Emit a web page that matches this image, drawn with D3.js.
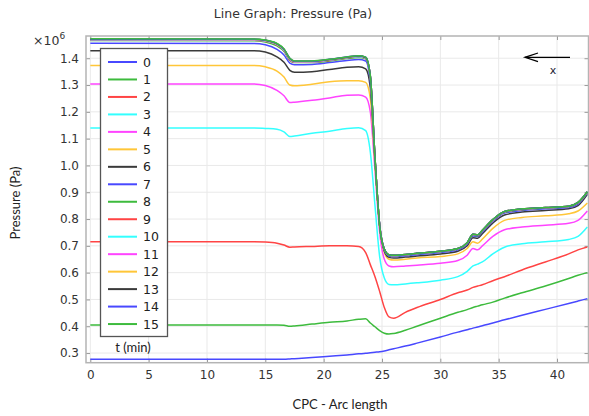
<!DOCTYPE html>
<html>
<head>
<meta charset="utf-8">
<script src="https://cdn.jsdelivr.net/npm/d3@7"></script>
<style>
  html, body { margin: 0; padding: 0; background: #fff; }
  svg { display: block; }
</style>
</head>
<body>
<svg id="chart" width="589" height="416"></svg>
<script>
// Arc length positions (shared by every time step)
const arcLength = [0, 14, 15, 16, 16.6, 17.1, 17.5, 19, 20.5, 22, 23, 23.6, 24, 24.4, 24.8, 25.2, 25.6, 26, 27, 28, 30, 31.5, 32.3, 32.8, 33.2, 33.6, 34.5, 35.5, 37, 39, 41, 41.8, 42.6];

// Time steps (min) shown in the legend
const times = [0, 1, 2, 3, 4, 5, 6, 7, 8, 9, 10, 11, 12, 13, 14, 15];

// Pressure in units of 1e6 Pa, one list per time step
const p0  = [0.277,0.277,0.277,0.277,0.277,0.278,0.279,0.283,0.288,0.293,0.297,0.299,0.301,0.303,0.305,0.308,0.312,0.316,0.326,0.337,0.360,0.378,0.387,0.393,0.397,0.402,0.412,0.424,0.441,0.463,0.485,0.494,0.503];
const p1  = [0.405,0.405,0.405,0.405,0.404,0.400,0.401,0.408,0.415,0.420,0.426,0.428,0.412,0.398,0.384,0.374,0.371,0.373,0.385,0.400,0.430,0.452,0.462,0.470,0.475,0.480,0.490,0.505,0.525,0.550,0.578,0.590,0.600];
const p2  = [0.715,0.715,0.714,0.710,0.703,0.695,0.696,0.698,0.700,0.700,0.698,0.675,0.630,0.585,0.530,0.470,0.435,0.430,0.452,0.470,0.500,0.525,0.535,0.545,0.550,0.555,0.570,0.585,0.610,0.640,0.670,0.685,0.696];
const p3  = [1.140,1.140,1.138,1.135,1.125,1.108,1.110,1.120,1.128,1.138,1.141,1.130,1.050,0.850,0.660,0.580,0.556,0.555,0.558,0.562,0.572,0.585,0.605,0.625,0.632,0.640,0.670,0.695,0.708,0.715,0.724,0.735,0.770];
const p4  = [1.304,1.304,1.298,1.280,1.260,1.235,1.236,1.243,1.252,1.262,1.263,1.255,1.200,0.980,0.750,0.650,0.625,0.622,0.625,0.628,0.635,0.645,0.665,0.690,0.685,0.700,0.735,0.760,0.770,0.777,0.784,0.795,0.830];
const p5  = [1.373,1.373,1.368,1.352,1.330,1.300,1.297,1.303,1.312,1.316,1.316,1.310,1.250,1.000,0.770,0.675,0.650,0.647,0.650,0.655,0.660,0.670,0.690,0.715,0.710,0.725,0.765,0.795,0.806,0.812,0.820,0.830,0.860];
const p6  = [1.428,1.428,1.423,1.405,1.385,1.355,1.348,1.350,1.358,1.366,1.368,1.360,1.290,1.020,0.780,0.680,0.657,0.655,0.658,0.662,0.670,0.680,0.700,0.730,0.728,0.745,0.785,0.815,0.826,0.832,0.838,0.850,0.892];
const p7  = [1.456,1.455,1.450,1.433,1.412,1.382,1.376,1.377,1.384,1.392,1.395,1.390,1.310,1.020,0.780,0.684,0.662,0.660,0.663,0.667,0.675,0.685,0.706,0.737,0.735,0.752,0.792,0.822,0.832,0.838,0.843,0.856,0.897];
const p8  = [1.466,1.465,1.461,1.446,1.426,1.392,1.384,1.384,1.390,1.399,1.403,1.398,1.325,1.025,0.777,0.687,0.665,0.663,0.666,0.670,0.678,0.688,0.709,0.740,0.738,0.755,0.795,0.825,0.835,0.841,0.846,0.859,0.899];
const p9  = [1.468,1.467,1.463,1.449,1.429,1.394,1.385,1.385,1.392,1.401,1.405,1.400,1.330,1.028,0.776,0.688,0.666,0.664,0.667,0.671,0.679,0.689,0.710,0.741,0.739,0.756,0.796,0.826,0.836,0.842,0.847,0.860,0.900];
const p10 = [1.469,1.468,1.464,1.451,1.431,1.396,1.386,1.386,1.393,1.402,1.406,1.401,1.332,1.029,0.776,0.688,0.666,0.664,0.667,0.671,0.679,0.689,0.711,0.742,0.740,0.757,0.797,0.827,0.837,0.842,0.847,0.861,0.901];
const p11 = [1.470,1.469,1.465,1.452,1.432,1.397,1.387,1.387,1.394,1.403,1.407,1.402,1.333,1.029,0.776,0.688,0.666,0.664,0.667,0.671,0.679,0.689,0.711,0.742,0.740,0.757,0.797,0.827,0.837,0.842,0.847,0.861,0.901];
const p12 = [1.471,1.470,1.466,1.453,1.433,1.398,1.388,1.388,1.395,1.404,1.408,1.403,1.334,1.030,0.775,0.688,0.667,0.665,0.668,0.672,0.680,0.690,0.712,0.743,0.741,0.758,0.798,0.828,0.838,0.843,0.848,0.862,0.902];
const p13 = [1.471,1.471,1.467,1.454,1.434,1.399,1.389,1.389,1.395,1.404,1.408,1.403,1.334,1.030,0.775,0.688,0.667,0.665,0.668,0.672,0.680,0.690,0.712,0.743,0.741,0.758,0.798,0.828,0.838,0.843,0.848,0.862,0.902];
const p14 = [1.472,1.471,1.467,1.454,1.434,1.399,1.389,1.389,1.396,1.405,1.409,1.404,1.335,1.030,0.775,0.688,0.667,0.665,0.668,0.672,0.680,0.690,0.712,0.743,0.741,0.758,0.798,0.828,0.838,0.843,0.848,0.862,0.902];
const p15 = [1.473,1.472,1.468,1.455,1.435,1.400,1.390,1.390,1.396,1.405,1.409,1.404,1.335,1.030,0.775,0.688,0.667,0.665,0.668,0.672,0.680,0.690,0.712,0.743,0.741,0.758,0.798,0.828,0.838,0.843,0.848,0.862,0.902];

const pressure = [p0, p1, p2, p3, p4, p5, p6, p7, p8, p9, p10, p11, p12, p13, p14, p15];

// Colour cycle: blue, green, red, cyan, magenta, yellow, black
const palette = ["#4848ff", "#3dbb3d", "#ff4444", "#33ffff", "#ff44ff", "#ffc638", "#3a3a3a"];

const xTicks = [0, 5, 10, 15, 20, 25, 30, 35, 40];
const yTicks = [0.3, 0.4, 0.5, 0.6, 0.7, 0.8, 0.9, 1.0, 1.1, 1.2, 1.3, 1.4];

const svg = d3.select("#chart");
const plot = { left: 86, top: 36, right: 588.5, bottom: 362.7 };

const x = d3.scaleLinear().domain([-0.37, 42.7]).range([plot.left, plot.right]);
const y = d3.scaleLinear().domain([0.264, 1.483]).range([plot.bottom, plot.top]);

const tickFont = "'DejaVu Sans', Verdana, sans-serif";
const labelFont = "Lato, 'Open Sans', sans-serif";

// Title
svg.append("text")
  .attr("x", 293).attr("y", 18)
  .attr("text-anchor", "middle")
  .attr("font-family", tickFont).attr("font-size", 12.5)
  .attr("fill", "#333")
  .text("Line Graph: Pressure (Pa)");

// Grid
const grid = svg.append("g").attr("stroke", "#e9e9e9").attr("stroke-width", 1);
grid.selectAll("line.gx").data(xTicks).join("line")
  .attr("x1", d => x(d)).attr("x2", d => x(d))
  .attr("y1", plot.top).attr("y2", plot.bottom);
grid.selectAll("line.gy").data(yTicks).join("line")
  .attr("x1", plot.left).attr("x2", plot.right)
  .attr("y1", d => y(d)).attr("y2", d => y(d));

// Axes with inward ticks
const axisStyle = g => {
  g.select(".domain").remove();
  g.selectAll(".tick line").attr("stroke", "#9a9a9a");
  g.selectAll(".tick text").attr("fill", "#333")
    .attr("font-family", tickFont).attr("font-size", 12);
};

svg.append("g")
  .attr("transform", `translate(0,${plot.bottom})`)
  .call(d3.axisBottom(x).tickValues(xTicks).tickSizeInner(-4).tickSizeOuter(0).tickPadding(8).tickFormat(d3.format("d")))
  .call(axisStyle);

svg.append("g")
  .attr("transform", `translate(0,${plot.top})`)
  .call(d3.axisTop(x).tickValues(xTicks).tickSizeInner(-4).tickSizeOuter(0).tickFormat(""))
  .call(axisStyle);

svg.append("g")
  .attr("transform", `translate(${plot.left},0)`)
  .call(d3.axisLeft(y).tickValues(yTicks).tickSizeInner(-4).tickSizeOuter(0).tickPadding(7).tickFormat(d3.format(".1f")))
  .call(axisStyle);

svg.append("g")
  .attr("transform", `translate(${plot.right},0)`)
  .call(d3.axisRight(y).tickValues(yTicks).tickSizeInner(-4).tickSizeOuter(0).tickFormat(""))
  .call(axisStyle);

// Frame
svg.append("rect")
  .attr("x", plot.left).attr("y", plot.top)
  .attr("width", plot.right - plot.left).attr("height", plot.bottom - plot.top)
  .attr("fill", "none").attr("stroke", "#b4b4b4").attr("stroke-width", 1.5);

// Exponent label
const expo = svg.append("text")
  .attr("x", 33).attr("y", 45)
  .attr("font-family", tickFont).attr("font-size", 12.5)
  .attr("fill", "#333");
expo.append("tspan").text("\u00d710");
expo.append("tspan").attr("dy", -6).attr("font-size", 9).text("6");

// Axis titles
svg.append("text")
  .attr("x", 340).attr("y", 409)
  .attr("text-anchor", "middle")
  .attr("font-family", labelFont).attr("font-size", 13)
  .attr("fill", "#222")
  .text("CPC - Arc length");

svg.append("text")
  .attr("transform", "translate(20,203) rotate(-90)")
  .attr("text-anchor", "middle")
  .attr("font-family", labelFont).attr("font-size", 13)
  .attr("fill", "#222")
  .text("Pressure (Pa)");

// Curves
svg.append("clipPath").attr("id", "plotClip")
  .append("rect")
  .attr("x", plot.left).attr("y", plot.top)
  .attr("width", plot.right - plot.left).attr("height", plot.bottom - plot.top);

const line = d3.line()
  .x((d, i) => x(arcLength[i]))
  .y(d => y(d))
  .curve(d3.curveMonotoneX);

svg.append("g").attr("clip-path", "url(#plotClip)")
  .selectAll("path").data(pressure).join("path")
  .attr("d", line)
  .attr("fill", "none")
  .attr("stroke", (d, i) => palette[i % palette.length])
  .attr("stroke-width", 1.5)
  .attr("stroke-linejoin", "round");

// Direction arrow
const arrow = svg.append("g").attr("stroke", "#000").attr("stroke-width", 1.3).attr("fill", "none");
arrow.append("line").attr("x1", 525).attr("y1", 57.3).attr("x2", 570).attr("y2", 57.3);
arrow.append("path").attr("d", "M538,53 L525,57.3 L538,61.6");
svg.append("text")
  .attr("x", 553).attr("y", 74)
  .attr("text-anchor", "middle")
  .attr("font-family", tickFont).attr("font-size", 11)
  .attr("fill", "#223")
  .text("x");

// Legend
const legend = svg.append("g");
legend.append("rect")
  .attr("x", 100.5).attr("y", 48.5).attr("width", 67).attr("height", 288)
  .attr("fill", "#fff").attr("stroke", "#555").attr("stroke-width", 1.3);

const rowY = i => 62 + i * 17.47;
legend.selectAll("line.entry").data(times).join("line")
  .attr("x1", 108).attr("x2", 137)
  .attr("y1", (d, i) => rowY(i)).attr("y2", (d, i) => rowY(i))
  .attr("stroke", (d, i) => palette[i % palette.length])
  .attr("stroke-width", 2);
legend.selectAll("text.entry").data(times).join("text")
  .attr("x", 143).attr("y", (d, i) => rowY(i))
  .attr("dy", "0.36em")
  .attr("font-family", tickFont).attr("font-size", 12.5)
  .attr("fill", "#222")
  .text(d => d);

svg.append("text")
  .attr("x", 133).attr("y", 352)
  .attr("text-anchor", "middle")
  .attr("font-family", labelFont).attr("font-size", 13)
  .attr("fill", "#222")
  .text("t (min)");
</script>
</body>
</html>
